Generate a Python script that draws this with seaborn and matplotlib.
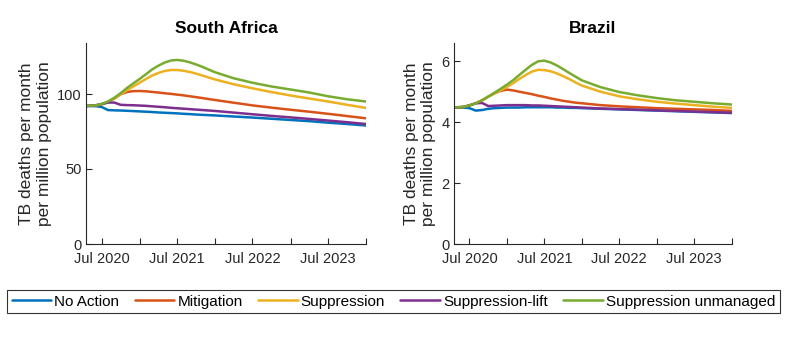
import matplotlib
matplotlib.use("Agg")
import matplotlib.pyplot as plt
import matplotlib.dates as mdates
from matplotlib.ticker import FuncFormatter
import numpy as np
import pandas as pd
import seaborn as sns

dates = ["2020-04-17", "2020-06-01", "2020-07-01", "2020-08-01", "2020-09-01",
         "2020-10-01", "2020-11-01", "2020-12-01", "2021-01-01", "2021-02-01",
         "2021-03-01", "2021-04-01", "2021-05-01", "2021-06-01", "2021-07-01",
         "2021-08-01", "2021-09-01", "2021-10-01", "2021-11-01", "2021-12-01",
         "2022-01-01", "2022-04-01", "2022-07-01", "2022-10-01", "2023-01-01",
         "2023-04-01", "2023-07-01", "2023-10-01", "2024-01-01"]

scenarios = ["No Action", "Mitigation", "Suppression", "Suppression-lift",
             "Suppression unmanaged"]

sa_no_action = [92, 91.9, 91.4, 89.3, 89.1, 89.0, 88.8, 88.6, 88.4, 88.2,
                88.0, 87.7, 87.5, 87.3, 87.1, 86.8, 86.6, 86.3, 86.1, 85.9,
                85.7, 85.0, 84.3, 83.5, 82.7, 81.9, 80.9, 80.0, 79.0]
sa_mitigation = [92, 92.3, 93.1, 94.6, 97.0, 99.8, 101.3, 101.9, 102.0, 101.8,
                 101.4, 101.0, 100.5, 100.1, 99.6, 99.1, 98.5, 97.9, 97.3, 96.6,
                 96.0, 94.2, 92.4, 90.9, 89.5, 88.2, 86.8, 85.3, 83.8]
sa_suppression = [92, 92.3, 93.1, 94.6, 97.0, 99.8, 102.5, 105.0, 107.5, 110.0,
                  112.2, 114.0, 115.3, 116.0, 116.0, 115.5, 114.7, 113.6, 112.3, 111.0,
                  109.7, 106.5, 103.8, 101.3, 99.0, 97.0, 95.0, 92.8, 90.7]
sa_supp_lift = [92, 92.4, 93.3, 94.3, 94.3, 92.8, 92.6, 92.5, 92.3, 92.1,
                91.8, 91.5, 91.2, 90.8, 90.5, 90.2, 89.9, 89.6, 89.3, 89.0,
                88.7, 87.6, 86.5, 85.4, 84.4, 83.4, 82.3, 81.2, 80.0]
sa_supp_unmanaged = [92, 92.4, 93.3, 95.0, 97.5, 100.5, 104.0, 107.0, 110.0, 113.2,
                     116.2, 118.8, 120.9, 122.3, 122.7, 122.2, 121.1, 119.7, 118.1, 116.3,
                     114.5, 110.5, 107.5, 105.0, 103.0, 101.0, 98.5, 96.5, 95.0]

br_no_action = [4.48, 4.48, 4.46, 4.38, 4.40, 4.44, 4.46, 4.47, 4.48, 4.48,
                4.48, 4.49, 4.49, 4.49, 4.49, 4.49, 4.48, 4.48, 4.47, 4.47,
                4.46, 4.44, 4.42, 4.40, 4.38, 4.36, 4.34, 4.32, 4.30]
br_mitigation = [4.48, 4.50, 4.55, 4.62, 4.72, 4.84, 4.95, 5.03, 5.07, 5.04,
                 5.00, 4.96, 4.92, 4.87, 4.83, 4.78, 4.74, 4.70, 4.67, 4.64,
                 4.62, 4.56, 4.52, 4.49, 4.46, 4.44, 4.42, 4.40, 4.37]
br_suppression = [4.48, 4.50, 4.55, 4.62, 4.72, 4.84, 4.95, 5.05, 5.16, 5.29,
                  5.42, 5.55, 5.66, 5.72, 5.71, 5.67, 5.60, 5.51, 5.41, 5.30,
                  5.20, 5.00, 4.85, 4.75, 4.67, 4.61, 4.56, 4.51, 4.47]
br_supp_lift = [4.48, 4.50, 4.55, 4.62, 4.63, 4.53, 4.54, 4.55, 4.56, 4.56,
                4.56, 4.56, 4.55, 4.55, 4.54, 4.53, 4.52, 4.51, 4.50, 4.49,
                4.48, 4.45, 4.43, 4.41, 4.39, 4.37, 4.35, 4.33, 4.31]
br_supp_unmanaged = [4.48, 4.50, 4.55, 4.62, 4.72, 4.84, 4.97, 5.10, 5.24, 5.39,
                     5.55, 5.72, 5.88, 6.00, 6.02, 5.96, 5.86, 5.74, 5.61, 5.49,
                     5.37, 5.15, 4.99, 4.88, 4.79, 4.72, 4.67, 4.62, 4.58]

colors = ["#0072BD", "#D95319", "#EDB120", "#7E2F8E", "#77AC30"]

panels = [
    ("South Africa", [sa_no_action, sa_mitigation, sa_suppression, sa_supp_lift, sa_supp_unmanaged],
     (0, 134), [0, 50, 100]),
    ("Brazil", [br_no_action, br_mitigation, br_suppression, br_supp_lift, br_supp_unmanaged],
     (0, 6.6), [0, 2, 4, 6]),
]

sns.set_theme(style="white")
plt.rcParams['font.family'] = ['Liberation Sans', 'DejaVu Sans']
txt = "#262626"

fig = plt.figure(figsize=(7.87, 3.37), dpi=100)
ax_pos = [[86 / 787, 93 / 337, 280 / 787, 201 / 337],
          [454 / 787, 93 / 337, 278 / 787, 201 / 337]]

dt = pd.to_datetime(dates)


def fmt(x, pos):
    d = mdates.num2date(x)
    return d.strftime("Jul %Y") if d.month == 7 else ""


for (title, series, ylim, yticks), pos in zip(panels, ax_pos):
    ax = fig.add_axes(pos)
    frames = []
    for name, vals in zip(scenarios, series):
        frames.append(pd.DataFrame({"date": dt, "value": vals, "scenario": name}))
    df = pd.concat(frames, ignore_index=True)
    sns.lineplot(data=df, x="date", y="value", hue="scenario", hue_order=scenarios,
                 palette=colors, linewidth=1.8, ax=ax, legend=False)
    ax.set_xlim(dt[0], dt[-1])
    ax.set_ylim(*ylim)
    ax.set_yticks(yticks)
    ax.xaxis.set_major_locator(mdates.MonthLocator(bymonth=[1, 7]))
    ax.xaxis.set_major_formatter(FuncFormatter(fmt))
    ax.set_xlabel("")
    ax.set_ylabel("TB deaths per month\nper million population", fontsize=12.5,
                  color=txt, labelpad=4, linespacing=1.2)
    ax.set_title(title, fontsize=12.5, fontweight="bold", color="black", pad=7)
    for s in ["top", "right"]:
        ax.spines[s].set_visible(False)
    for s in ["left", "bottom"]:
        ax.spines[s].set_color(txt)
        ax.spines[s].set_linewidth(0.8)
    ax.tick_params(axis="both", direction="in", length=4, width=0.8, color=txt,
                   labelsize=10.5, labelcolor=txt, left=True, bottom=True)
    ax.tick_params(axis="x", pad=6)
    ax.tick_params(axis="y", pad=3)
    ax.grid(False)

handles = [plt.Line2D([], [], color=c, linewidth=1.8) for c in colors]
leg = fig.legend(handles, scenarios, loc="center", bbox_to_anchor=(0.5, 0.105),
                 ncol=5, frameon=True, fancybox=False, edgecolor="black",
                 handlelength=2.6, handletextpad=0.2, columnspacing=1.0,
                 borderpad=0.3, prop={"size": 11})
leg.get_frame().set_linewidth(0.8)
for t in leg.get_texts():
    t.set_color("black")

fig.savefig("out.png", dpi=100, facecolor="white")
